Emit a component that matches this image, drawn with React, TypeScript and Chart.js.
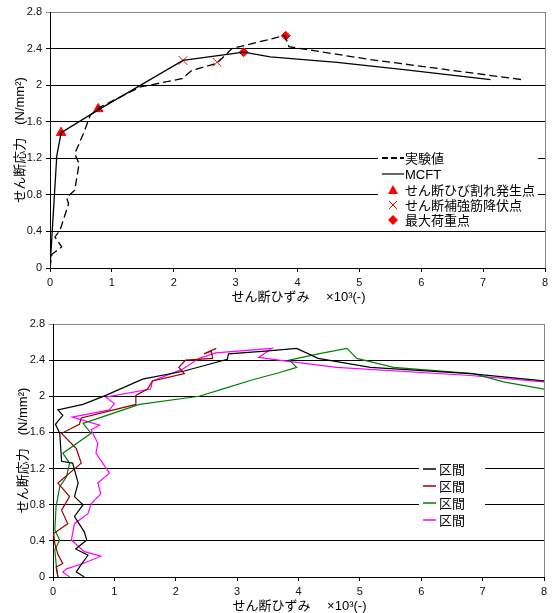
import React, { useEffect, useRef } from "react";
import { Chart, registerables } from "chart.js";

Chart.register(...registerables);

const FONT = '"Liberation Sans", Arial, "Noto Sans CJK JP", sans-serif';

// ---------- Top chart data ----------
const mcftX = [0, 0.11, 0.18, 0.78, 2.15, 3.13, 3.56, 4.64, 5.72, 7.12];
const mcftY = [0, 1.23, 1.48, 1.73, 2.27, 2.36, 2.31, 2.25, 2.17, 2.06];

const expX = [0, 0.03, 0.19, 0.08, 0.16, 0.30, 0.27, 0.40, 0.47, 0.40, 0.54, 0.65, 0.81, 1.46, 2.13, 2.29, 2.70, 2.94, 3.72, 3.80, 3.86, 5.18, 7.63];
const expY = [0, 0.15, 0.23, 0.34, 0.41, 0.70, 0.77, 0.85, 1.14, 1.25, 1.47, 1.67, 1.76, 1.98, 2.07, 2.16, 2.24, 2.40, 2.53, 2.54, 2.42, 2.28, 2.06];

const crackX = [0.18, 0.78];
const crackY = [1.48, 1.74];
const yieldX = [2.15, 2.70];
const yieldY = [2.27, 2.25];
const maxX = [3.13, 3.81];
const maxY = [2.36, 2.54];

const topLegend = ["実験値", "MCFT", "せん断ひび割れ発生点", "せん断補強筋降伏点", "最大荷重点"];

// ---------- Bottom chart data ----------
const s1X = [0.51, 0.38, 0.43, 0.57, 0.37, 0.55, 0.51, 0.35, 0.49, 0.35, 0.41, 0.32, 0.14, 0.11, 0.04, 0.16, 0.08, 0.49, 0.86, 1.46, 2.14, 2.84, 2.86, 3.46, 3.97, 4.32, 5.17, 6.80, 8.0];
const s1Y = [0, 0.055, 0.11, 0.24, 0.31, 0.41, 0.50, 0.67, 0.80, 0.89, 1.04, 1.26, 1.28, 1.59, 1.69, 1.79, 1.85, 1.91, 2.01, 2.19, 2.28, 2.41, 2.47, 2.50, 2.53, 2.42, 2.32, 2.25, 2.17];

const s2X = [0.08, 0.05, 0.16, 0.08, 0.03, 0.01, 0.24, 0.14, 0.27, 0.08, 0.46, 0.38, 0.14, 0.43, 0.46, 1.35, 1.35, 1.54, 1.62, 2.14, 2.05, 2.16, 2.60, 2.58, 2.46, 2.66];
const s2Y = [0, 0.11, 0.15, 0.25, 0.37, 0.48, 0.59, 0.74, 0.89, 1.04, 1.26, 1.42, 1.59, 1.69, 1.76, 1.91, 2.01, 2.08, 2.17, 2.25, 2.32, 2.40, 2.42, 2.50, 2.47, 2.53];

const s3X = [0.08, 0.05, 0.03, 0.11, 0.03, 0.05, 0.11, 0.22, 0.27, 0.16, 0.62, 0.49, 1.41, 2.38, 2.76, 3.24, 3.68, 3.97, 3.85, 4.32, 4.79, 4.95, 5.55, 6.85, 7.34, 8.0];
const s3Y = [0, 0.15, 0.30, 0.41, 0.52, 0.78, 1.0, 1.11, 1.26, 1.37, 1.59, 1.70, 1.91, 2.0, 2.08, 2.18, 2.26, 2.32, 2.40, 2.47, 2.53, 2.42, 2.32, 2.25, 2.16, 2.08];

const s4X = [0.27, 0.16, 0.22, 0.49, 0.78, 0.51, 0.30, 0.35, 0.57, 0.62, 0.78, 0.73, 0.92, 0.70, 0.73, 0.62, 0.76, 0.51, 0.31, 0.92, 1.0, 0.86, 1.59, 1.62, 2.0, 2.11, 2.38, 2.65, 3.57, 3.35, 3.68, 4.62, 6.80, 8.0];
const s4Y = [0, 0.055, 0.09, 0.15, 0.23, 0.28, 0.41, 0.59, 0.70, 0.81, 0.92, 1.04, 1.15, 1.37, 1.48, 1.63, 1.68, 1.73, 1.77, 1.85, 1.92, 1.99, 2.08, 2.17, 2.27, 2.30, 2.42, 2.48, 2.53, 2.43, 2.40, 2.32, 2.23, 2.16];

const bottomLegend = ["区間", "区間", "区間", "区間"];
const bottomColors = ["#000000", "#990000", "#008000", "#ff00ff"];

const xTitle = "せん断ひずみ　 ×10³(-)";
const yTitle = "せん断応力　(N/mm²)";

const pts = (xs: number[], ys: number[]) => xs.map((x, i) => ({ x, y: ys[i] }));

function scales(yW: number, xH: number) {
  return {
    x: {
      type: "linear" as const,
      min: 0,
      max: 8,
      ticks: { stepSize: 1, color: "#111", font: { size: 11, family: FONT }, padding: 4 },
      grid: { drawOnChartArea: false, drawTicks: true, tickLength: 4, color: "#000" },
      border: { color: "#000", width: 1 },
      afterFit: (s: any) => { s.height = xH; },
    },
    y: {
      type: "linear" as const,
      min: 0,
      max: 2.8,
      ticks: {
        stepSize: 0.4,
        color: "#111",
        font: { size: 11, family: FONT },
        padding: 4,
        callback: (v: any) => String(Number(Number(v).toFixed(1))),
      },
      grid: {
        drawTicks: true,
        tickLength: 4,
        color: (c: any) => (c.tick && c.tick.value > 2.79 ? "#888" : "#000"),
        lineWidth: 1,
      },
      border: { color: "#000", width: 1 },
      afterFit: (s: any) => { s.width = yW; },
    },
  };
}

function drawTitles(chart: any) {
  const { ctx, chartArea } = chart;
  ctx.save();
  ctx.fillStyle = "#000";
  ctx.font = `13px ${FONT}`;
  ctx.textAlign = "center";
  ctx.textBaseline = "middle";
  ctx.fillText(xTitle, (chartArea.left + chartArea.right) / 2 + 1, chartArea.bottom + 29);
  ctx.translate(chartArea.left - 30, (chartArea.top + chartArea.bottom) / 2);
  ctx.rotate(-Math.PI / 2);
  ctx.fillText(yTitle, 0, 0);
  ctx.restore();
  // right border
  ctx.save();
  ctx.strokeStyle = "#888";
  ctx.lineWidth = 1;
  ctx.beginPath();
  ctx.moveTo(Math.round(chartArea.right) + 0.5, chartArea.top);
  ctx.lineTo(Math.round(chartArea.right) + 0.5, chartArea.bottom);
  ctx.stroke();
  ctx.restore();
}

const topPlugin = {
  id: "topDecor",
  afterDraw(chart: any) {
    drawTitles(chart);
    const ctx = chart.ctx;
    ctx.save();
    ctx.fillStyle = "#fff";
    ctx.fillRect(378, 149, 160, 79);
    const rows = [158, 174, 190, 205, 220];
    // dashed sample
    ctx.strokeStyle = "#000";
    ctx.lineWidth = 2;
    ctx.setLineDash([6, 3]);
    ctx.beginPath();
    ctx.moveTo(382, rows[0]);
    ctx.lineTo(404, rows[0]);
    ctx.stroke();
    ctx.setLineDash([]);
    ctx.lineWidth = 1.2;
    ctx.beginPath();
    ctx.moveTo(382, rows[1]);
    ctx.lineTo(404, rows[1]);
    ctx.stroke();
    // triangle
    ctx.fillStyle = "#ff0000";
    ctx.beginPath();
    ctx.moveTo(393, rows[2] - 5);
    ctx.lineTo(398, rows[2] + 4);
    ctx.lineTo(388, rows[2] + 4);
    ctx.closePath();
    ctx.fill();
    // cross
    ctx.strokeStyle = "#ff0000";
    ctx.lineWidth = 1;
    ctx.beginPath();
    ctx.moveTo(389, rows[3] - 4);
    ctx.lineTo(397, rows[3] + 4);
    ctx.moveTo(397, rows[3] - 4);
    ctx.lineTo(389, rows[3] + 4);
    ctx.stroke();
    // diamond
    ctx.beginPath();
    ctx.moveTo(393, rows[4] - 5);
    ctx.lineTo(398, rows[4]);
    ctx.lineTo(393, rows[4] + 5);
    ctx.lineTo(388, rows[4]);
    ctx.closePath();
    ctx.fill();
    ctx.fillStyle = "#000";
    ctx.font = `13px ${FONT}`;
    ctx.textAlign = "left";
    ctx.textBaseline = "middle";
    topLegend.forEach((t, i) => ctx.fillText(t, 405, rows[i] + 1));
    ctx.restore();
  },
};

const bottomPlugin = {
  id: "bottomDecor",
  afterDraw(chart: any) {
    drawTitles(chart);
    const ctx = chart.ctx;
    ctx.save();
    ctx.fillStyle = "#fff";
    ctx.fillRect(419, 152, 66, 70);
    const rows = [161, 178, 195, 212];
    ctx.font = `13px ${FONT}`;
    ctx.textAlign = "left";
    ctx.textBaseline = "middle";
    bottomLegend.forEach((t, i) => {
      ctx.strokeStyle = bottomColors[i];
      ctx.lineWidth = 1.5;
      ctx.beginPath();
      ctx.moveTo(423, rows[i]);
      ctx.lineTo(436, rows[i]);
      ctx.stroke();
      ctx.fillStyle = "#000";
      ctx.fillText(t, 439, rows[i] + 1);
    });
    ctx.restore();
  },
};

function ChartBox({ config, top }: { config: any; top: number }) {
  const ref = useRef<HTMLCanvasElement | null>(null);
  useEffect(() => {
    if (!ref.current) return;
    const ch = new Chart(ref.current, config);
    return () => ch.destroy();
  }, []);
  return (
    <div style={{ position: "absolute", left: 0, top, width: 553, height: 305 }}>
      <canvas ref={ref} width={553} height={305} style={{ width: 553, height: 305, display: "block" }} />
    </div>
  );
}

const lineDs = (data: any, color: string, width = 1.3, dash: number[] = []) => ({
  data,
  showLine: true,
  borderColor: color,
  backgroundColor: color,
  borderWidth: width,
  borderDash: dash,
  pointRadius: 0,
  fill: false,
  tension: 0,
});

const topConfig = {
  type: "scatter",
  data: {
    datasets: [
      lineDs(pts(expX, expY), "#000", 1.3, [8, 4]),
      lineDs(pts(mcftX, mcftY), "#000", 1.3),
      { data: pts(crackX, crackY), pointStyle: "triangle", pointRadius: 5.5, backgroundColor: "#ff0000", borderColor: "#ff0000", borderWidth: 1, showLine: false },
      { data: pts(yieldX, yieldY), pointStyle: "crossRot", pointRadius: 6, backgroundColor: "#ff0000", borderColor: "#ff0000", borderWidth: 1, showLine: false },
      { data: pts(maxX, maxY), pointStyle: "rectRot", pointRadius: 4.5, backgroundColor: "#ff0000", borderColor: "#ff0000", borderWidth: 1, showLine: false },
    ],
  },
  options: {
    animation: false,
    responsive: false,
    events: [],
    layout: { padding: { left: 0, right: 8, top: 12, bottom: 0 } },
    plugins: { legend: { display: false }, tooltip: { enabled: false } },
    scales: scales(50, 37),
  },
  plugins: [topPlugin],
};

const bottomConfig = {
  type: "scatter",
  data: {
    datasets: [
      lineDs(pts(s1X, s1Y), bottomColors[0], 1.2),
      lineDs(pts(s2X, s2Y), bottomColors[1], 1.2),
      lineDs(pts(s3X, s3Y), bottomColors[2], 1.2),
      lineDs(pts(s4X, s4Y), bottomColors[3], 1.2),
    ],
  },
  options: {
    animation: false,
    responsive: false,
    events: [],
    layout: { padding: { left: 3, right: 9, top: 16, bottom: 0 } },
    plugins: { legend: { display: false }, tooltip: { enabled: false } },
    scales: scales(50, 36),
  },
  plugins: [bottomPlugin],
};

export default function App() {
  return (
    <div>
      <ChartBox config={topConfig} top={0} />
      <ChartBox config={bottomConfig} top={308} />
    </div>
  );
}
